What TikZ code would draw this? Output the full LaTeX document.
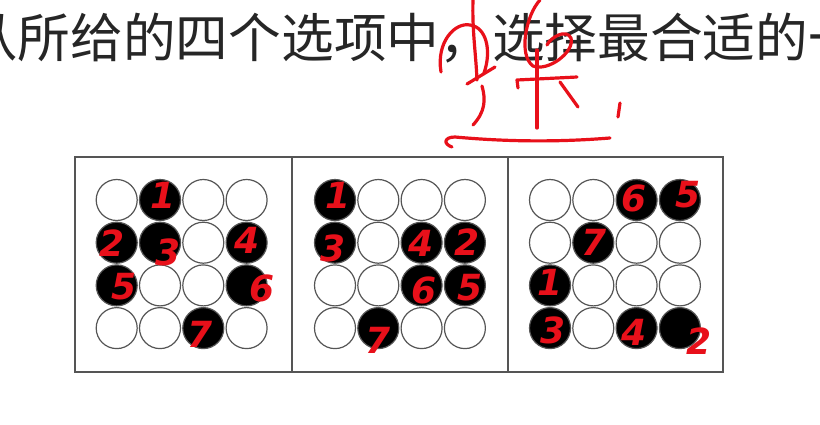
\documentclass[tikz,border=0pt]{standalone}
\usepackage{fontspec}
\usetikzlibrary{calc}
\newfontfamily\cjk{Noto Sans CJK SC}
\newfontfamily\hand{DejaVu Sans}
\definecolor{ink}{HTML}{262626}
\definecolor{frame}{HTML}{555555}
\definecolor{pen}{HTML}{E8101A}
\tikzset{
  whitestone/.style={circle,draw=frame,line width=1.2pt,fill=white,minimum size=41pt,inner sep=0pt},
  blackstone/.style={circle,draw=frame,line width=1.2pt,fill=black,minimum size=41pt,inner sep=0pt},
  panelbox/.style={draw=frame,line width=2.2pt},
  digit/.style={text=pen,font=\hand\itshape\bfseries\fontsize{36}{36}\selectfont,inner sep=0pt},
  ink stroke/.style={draw=pen,line width=3.2pt,line cap=round,line join=round}
}
\begin{document}
\begin{tikzpicture}[x=1pt,y=-1pt]
\useasboundingbox (0,0) rectangle (820,424);
\fill[white] (0,0) rectangle (820,424);
% title line (cut off at both sides, as in the reference)
\node[anchor=base west,inner sep=0pt,text=ink,font=\cjk\fontsize{52.7}{60}\selectfont] (title) at (-35,57) {从所给的四个选项中，选择最合适的一};
% panels
\draw[panelbox] (75,157) rectangle (723,372);
\draw[panelbox] (292,157) -- (292,372);
\draw[panelbox] (508,157) -- (508,372);
% stones: panel/row/col
\foreach \p/\xo in {1/116.7,2/335,3/550}{
  \coordinate (o\p) at (\xo,200);
}
\foreach \p/\r/\c in {1/1/1,1/1/3,1/1/4,1/2/3,1/3/2,1/3/3,1/4/1,1/4/2,1/4/4,
                      2/1/2,2/1/3,2/1/4,2/2/2,2/3/1,2/3/2,2/4/1,2/4/3,2/4/4,
                      3/1/1,3/1/2,3/2/1,3/2/3,3/2/4,3/3/2,3/3/3,3/3/4,3/4/2}{
  \node[whitestone] (s\p\r\c) at ($(o\p)+({(\c-1)*43.3},{(\r-1)*42.7})$) {};
}
\foreach \p/\r/\c in {1/1/2,1/2/1,1/2/2,1/2/4,1/3/1,1/3/4,1/4/3,
                      2/1/1,2/2/1,2/2/3,2/2/4,2/3/3,2/3/4,2/4/2,
                      3/1/3,3/1/4,3/2/2,3/3/1,3/4/1,3/4/3,3/4/4}{
  \node[blackstone] (s\p\r\c) at ($(o\p)+({(\c-1)*43.3},{(\r-1)*42.7})$) {};
}
% handwritten numbers
\foreach \n/\x/\y/\lab in {a/163/195/1,b/112/243/2,c/168/252/3,d/247/240/4,e/124/287/5,f/262/288/6,g/200/334/7,
                          h/338/195/1,i/333/248/3,j/421/243/4,k/467/242/2,l/424/290/6,m/470/288/5,n/378/340/7,
                          o/634/198/6,p/688/195/5,q/594/242/7,r/550/282/1,s/553/330/3,t/634/332/4,u/699/341/2}{
  \node[digit] (d\n) at (\x,\y) {\lab};
}
% handwritten character above the title gap
\path[ink stroke] (441,72) .. controls (436,42) and (455,22) .. (470,25)
   .. controls (486,27) and (492,50) .. (484,73);
\path[ink stroke] (473,0) .. controls (472,30) and (476,55) .. (477,80);
\path[ink stroke] (467,84) -- (495,67);
\path[ink stroke] (482,86) .. controls (486,100) and (485,112) .. (473,125);
\path[ink stroke] (540,0) .. controls (526,15) and (518,55) .. (533,66)
   .. controls (548,72) and (575,52) .. (571,38) .. controls (566,28) and (550,38) .. (547,45);
\path[ink stroke] (518,88) -- (517,80) -- (577,77);
\path[ink stroke] (537,50) -- (537,128);
\path[ink stroke] (560,82) -- (578,107);
\path[ink stroke] (620,103) -- (618,117);
\path[ink stroke] (452,147) .. controls (443,144) and (444,137) .. (455,137)
   .. controls (510,142) and (560,142) .. (610,138);
\end{tikzpicture}
\end{document}
